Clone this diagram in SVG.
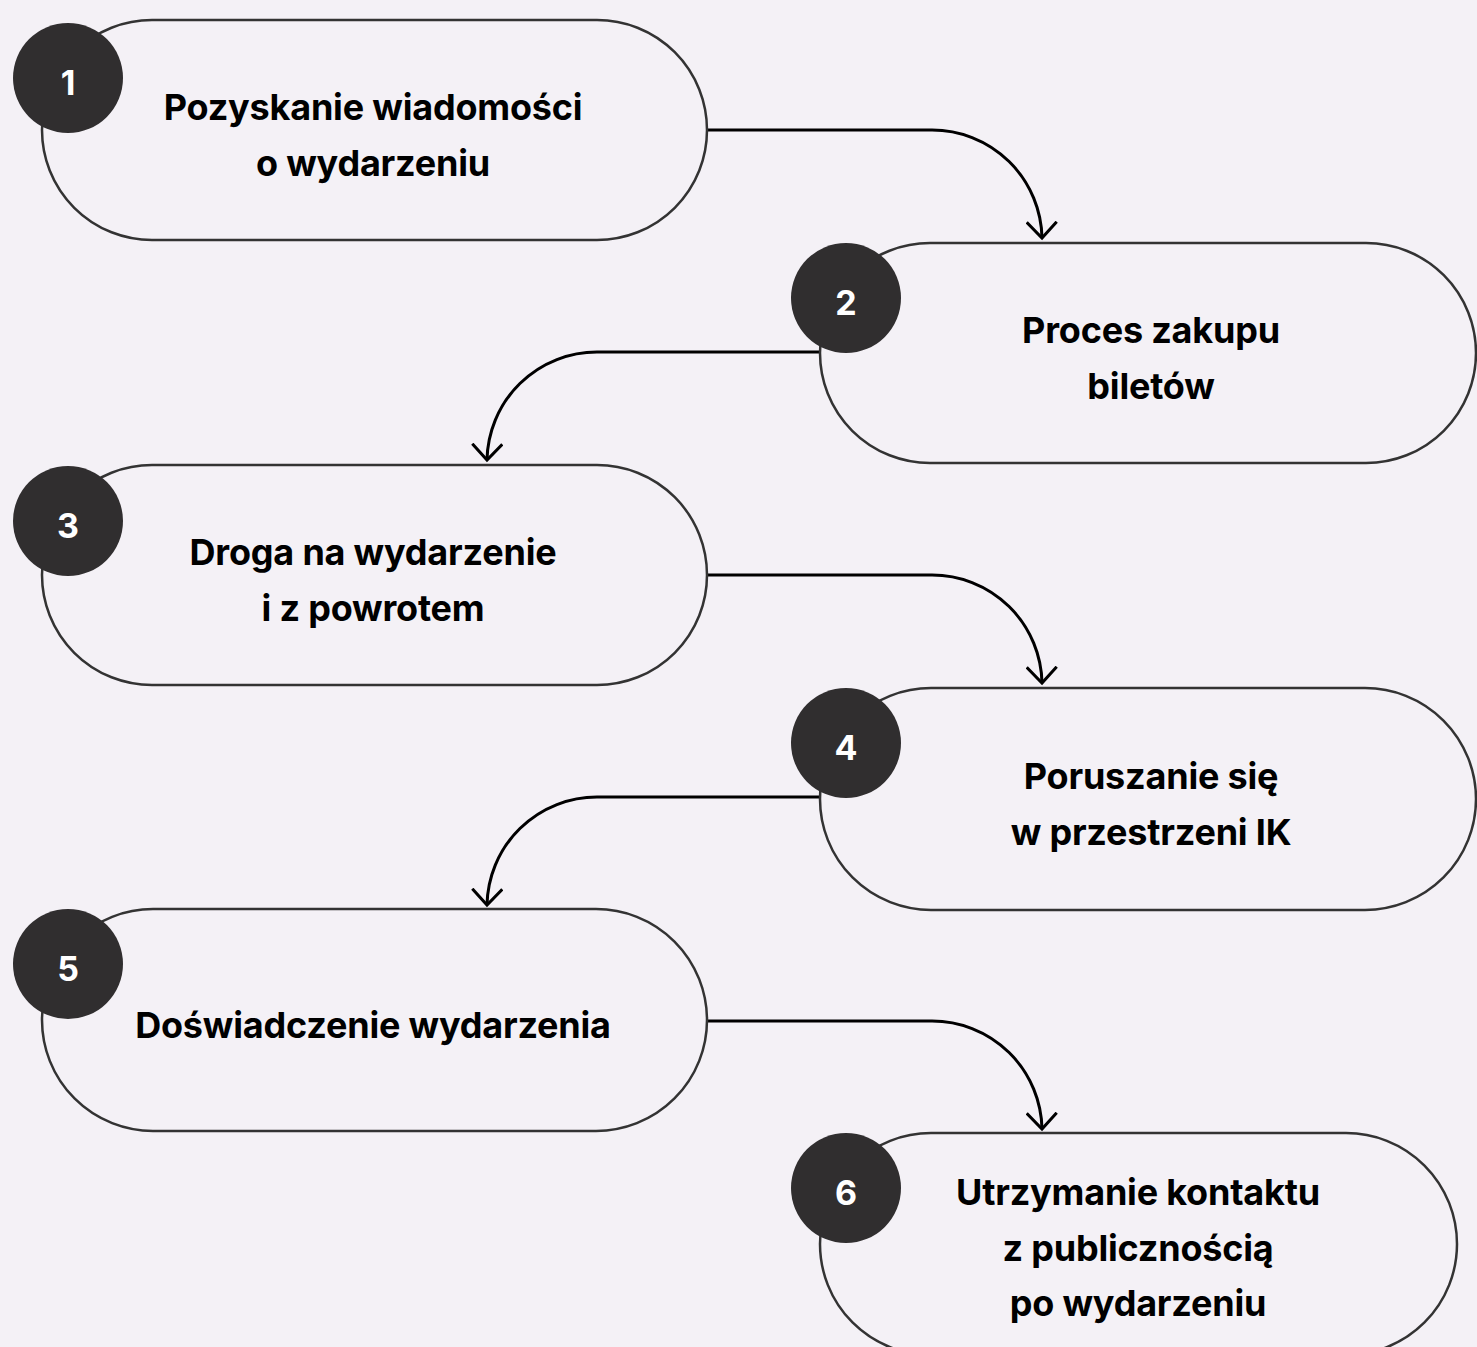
<svg xmlns="http://www.w3.org/2000/svg" width="1477" height="1347" viewBox="0 0 1477 1347">
<defs>
<style>
.pill{fill:#f4f1f6;stroke:#333;stroke-width:2.5}
.badge{fill:#302e2f}
.num{fill:#fff;font-family:Inter,"Liberation Sans",sans-serif;font-weight:700;font-size:34px;text-anchor:middle}
.lbl{fill:#000;font-family:Inter,"Liberation Sans",sans-serif;font-weight:700;font-size:36px;text-anchor:middle;letter-spacing:-0.2px}
.conn{fill:none;stroke:#000;stroke-width:3}
</style>
<marker id="arr" viewBox="-17 -16 20 32" markerWidth="20" markerHeight="32" refX="0" refY="0" orient="auto" markerUnits="userSpaceOnUse">
<path d="M-16,-15 L0,0 L-16,15" fill="none" stroke="#000" stroke-width="3"/>
</marker>
</defs>
<rect width="1477" height="1347" fill="#f4f1f6"/>
<g id="connectors">
<path class="conn" d="M707,130 H932 A110,110 0 0 1 1042,238" marker-end="url(#arr)"/>
<path class="conn" d="M820,352 H597 A110,110 0 0 0 487,460" marker-end="url(#arr)"/>
<path class="conn" d="M707,575 H932 A110,110 0 0 1 1042,683" marker-end="url(#arr)"/>
<path class="conn" d="M820,797 H597 A110,110 0 0 0 487,905" marker-end="url(#arr)"/>
<path class="conn" d="M707,1021 H932 A110,110 0 0 1 1042,1129" marker-end="url(#arr)"/>
</g>
<g id="node1">
<rect class="pill" x="42" y="20" width="665" height="220" rx="110"/>
<circle class="badge" cx="68" cy="78" r="55"/>
<text class="num" x="68" y="95">1</text>
<text class="lbl" x="373" y="120">Pozyskanie wiadomości</text>
<text class="lbl" x="373" y="176">o wydarzeniu</text>
</g>
<g id="node2">
<rect class="pill" x="820" y="243" width="656" height="220" rx="110"/>
<circle class="badge" cx="846" cy="298" r="55"/>
<text class="num" x="846" y="315">2</text>
<text class="lbl" x="1151" y="343">Proces zakupu</text>
<text class="lbl" x="1151" y="399">biletów</text>
</g>
<g id="node3">
<rect class="pill" x="42" y="465" width="665" height="220" rx="110"/>
<circle class="badge" cx="68" cy="521" r="55"/>
<text class="num" x="68" y="538">3</text>
<text class="lbl" x="373" y="565">Droga na wydarzenie</text>
<text class="lbl" x="373" y="621">i z powrotem</text>
</g>
<g id="node4">
<rect class="pill" x="820" y="688" width="656" height="222" rx="111"/>
<circle class="badge" cx="846" cy="743" r="55"/>
<text class="num" x="846" y="760">4</text>
<text class="lbl" x="1151" y="789">Poruszanie się</text>
<text class="lbl" x="1151" y="845">w przestrzeni IK</text>
</g>
<g id="node5">
<rect class="pill" x="42" y="909" width="665" height="222" rx="111"/>
<circle class="badge" cx="68" cy="964" r="55"/>
<text class="num" x="68" y="981">5</text>
<text class="lbl" x="373" y="1038">Doświadczenie wydarzenia</text>
</g>
<g id="node6">
<rect class="pill" x="820" y="1133" width="637" height="222" rx="111"/>
<circle class="badge" cx="846" cy="1188" r="55"/>
<text class="num" x="846" y="1205">6</text>
<text class="lbl" x="1138" y="1205">Utrzymanie kontaktu</text>
<text class="lbl" x="1138" y="1261">z publicznością</text>
<text class="lbl" x="1138" y="1316">po wydarzeniu</text>
</g>
</svg>
